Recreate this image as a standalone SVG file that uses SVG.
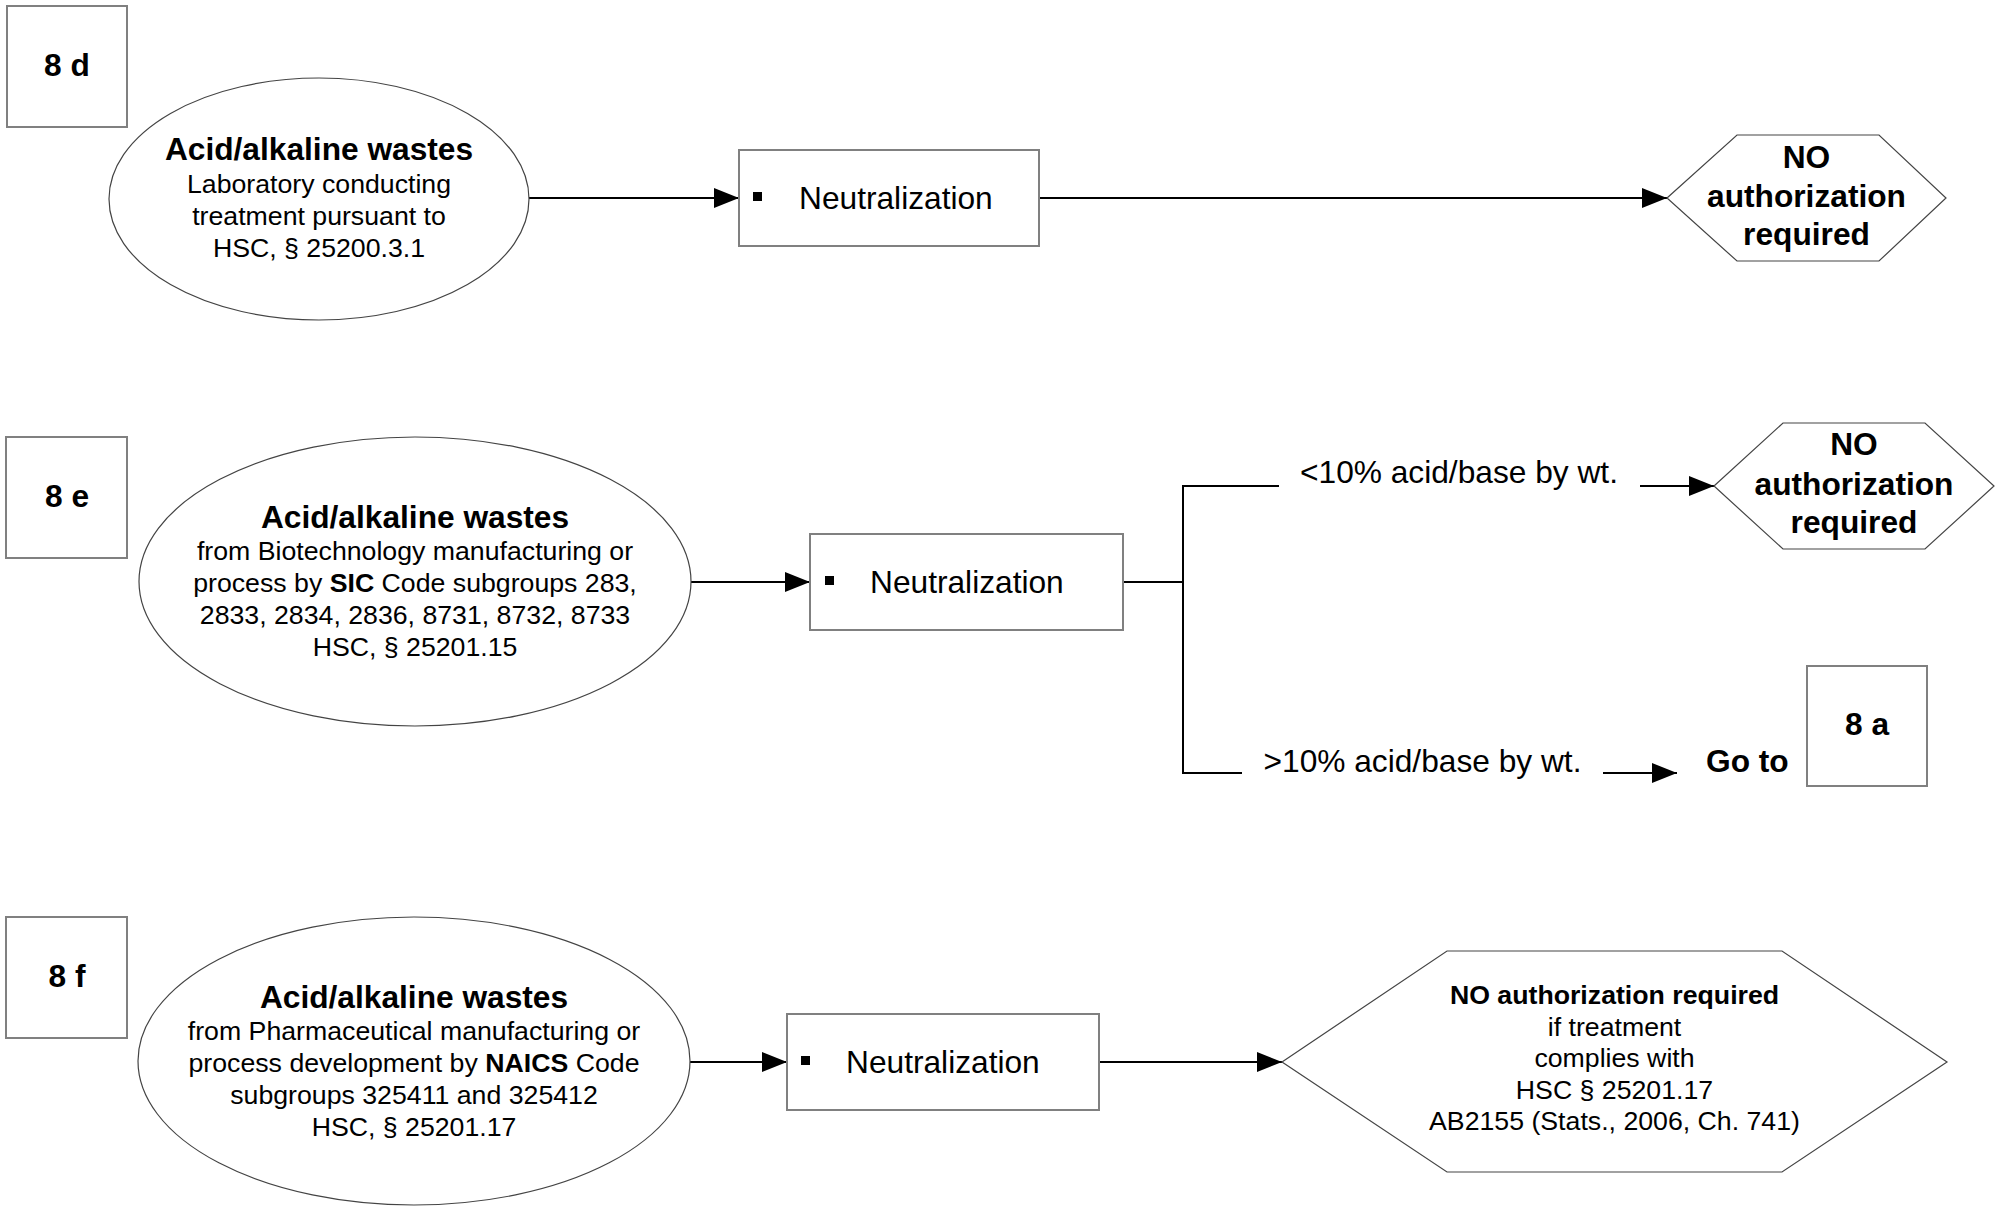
<svg xmlns="http://www.w3.org/2000/svg" width="2000" height="1206" viewBox="0 0 2000 1206">
<defs>
<style>
text{font-family:"Liberation Sans",Arial,sans-serif;fill:#000}
.big{font-size:31.7px}
.sm{font-size:26.7px}
.b{font-weight:bold}
.mid{text-anchor:middle}
.box{fill:#fff;stroke:#808080;stroke-width:2}
.ell{fill:#fff;stroke:#444;stroke-width:1.2}
.hex{fill:#fff;stroke:#444;stroke-width:1.2}
.bul{fill:#000}
.con{fill:none;stroke:#000;stroke-width:2}
</style>
<marker id="arr" markerUnits="userSpaceOnUse" markerWidth="25" markerHeight="20" refX="25" refY="10" orient="auto">
<path d="M0,0 L25,10 L0,20 z" fill="#000"/>
</marker>
</defs>
<rect width="2000" height="1206" fill="#fff"/>

<g id="connectors">
<line class="con" x1="529" y1="198" x2="739" y2="198" marker-end="url(#arr)"/>
<line class="con" x1="1039" y1="198" x2="1667" y2="198" marker-end="url(#arr)"/>
<line class="con" x1="691" y1="582" x2="810" y2="582" marker-end="url(#arr)"/>
<path class="con" d="M1123,582 H1183 M1183,486 V774 M1182,486 H1279 M1182,773 H1242"/>
<line class="con" x1="1640" y1="486" x2="1714" y2="486" marker-end="url(#arr)"/>
<line class="con" x1="1603" y1="773" x2="1677" y2="773" marker-end="url(#arr)"/>
<line class="con" x1="690" y1="1062" x2="787" y2="1062" marker-end="url(#arr)"/>
<line class="con" x1="1099" y1="1062" x2="1282" y2="1062" marker-end="url(#arr)"/>
</g>

<g id="label-8d">
<rect class="box" x="7" y="6" width="120" height="121"/>
<text class="big b mid" x="67" y="76">8 d</text>
</g>
<g id="source-8d">
<ellipse class="ell" cx="319" cy="199" rx="210" ry="121"/>
<text class="big b mid" x="319" y="160">Acid/alkaline wastes</text>
<text class="sm mid" x="319" y="193">Laboratory conducting</text>
<text class="sm mid" x="319" y="225">treatment pursuant to</text>
<text class="sm mid" x="319" y="257">HSC, § 25200.3.1</text>
</g>
<g id="neutralization-8d">
<rect class="box" x="739" y="150" width="300" height="96"/>
<rect class="bul" x="753" y="192" width="9" height="9"/>
<text class="big" x="799" y="208.5">Neutralization</text>
</g>
<g id="result-8d">
<polygon class="hex" points="1667,198 1737,135 1879,135 1946,198 1879,261 1737,261"/>
<text class="big b mid" x="1806.5" y="168">NO</text>
<text class="big b mid" x="1806.5" y="207">authorization</text>
<text class="big b mid" x="1806.5" y="245">required</text>
</g>

<g id="label-8e">
<rect class="box" x="6" y="437" width="121" height="121"/>
<text class="big b mid" x="67" y="507">8 e</text>
</g>
<g id="source-8e">
<ellipse class="ell" cx="415" cy="581.5" rx="276" ry="144.5"/>
<text class="big b mid" x="415" y="528">Acid/alkaline wastes</text>
<text class="sm mid" x="415" y="560">from Biotechnology manufacturing or</text>
<text class="sm mid" x="415" y="592">process by <tspan class="b">SIC</tspan> Code subgroups 283,</text>
<text class="sm mid" x="415" y="624">2833, 2834, 2836, 8731, 8732, 8733</text>
<text class="sm mid" x="415" y="656">HSC, § 25201.15</text>
</g>
<g id="neutralization-8e">
<rect class="box" x="810" y="534" width="313" height="96"/>
<rect class="bul" x="825" y="576" width="9" height="9"/>
<text class="big" x="870" y="592.5">Neutralization</text>
</g>
<g id="branch-labels-8e">
<text class="big" x="1300" y="483">&lt;10% acid/base by wt.</text>
<text class="big" x="1263.5" y="772">&gt;10% acid/base by wt.</text>
<text class="big b" x="1706" y="772">Go to</text>
</g>
<g id="result-8e">
<polygon class="hex" points="1714,486 1783,423 1925,423 1994,486 1925,549 1783,549"/>
<text class="big b mid" x="1854" y="455">NO</text>
<text class="big b mid" x="1854" y="495">authorization</text>
<text class="big b mid" x="1854" y="533">required</text>
</g>
<g id="label-8a">
<rect class="box" x="1807" y="666" width="120" height="120"/>
<text class="big b mid" x="1867" y="735">8 a</text>
</g>

<g id="label-8f">
<rect class="box" x="6" y="917" width="121" height="121"/>
<text class="big b mid" x="67" y="987">8 f</text>
</g>
<g id="source-8f">
<ellipse class="ell" cx="414" cy="1061" rx="276" ry="144"/>
<text class="big b mid" x="414" y="1008">Acid/alkaline wastes</text>
<text class="sm mid" x="414" y="1040">from Pharmaceutical manufacturing or</text>
<text class="sm mid" x="414" y="1072">process development by <tspan class="b">NAICS</tspan> Code</text>
<text class="sm mid" x="414" y="1104">subgroups 325411 and 325412</text>
<text class="sm mid" x="414" y="1136">HSC, § 25201.17</text>
</g>
<g id="neutralization-8f">
<rect class="box" x="787" y="1014" width="312" height="96"/>
<rect class="bul" x="801" y="1056" width="9" height="9"/>
<text class="big" x="846" y="1072.5">Neutralization</text>
</g>
<g id="result-8f">
<polygon class="hex" points="1282,1062 1447,951 1782,951 1947,1062 1782,1172 1447,1172"/>
<text class="sm b mid" x="1614.5" y="1004">NO authorization required</text>
<text class="sm mid" x="1614.5" y="1035.5">if treatment</text>
<text class="sm mid" x="1614.5" y="1067">complies with</text>
<text class="sm mid" x="1614.5" y="1098.5">HSC § 25201.17</text>
<text class="sm mid" x="1614.5" y="1130">AB2155 (Stats., 2006, Ch. 741)</text>
</g>
</svg>
